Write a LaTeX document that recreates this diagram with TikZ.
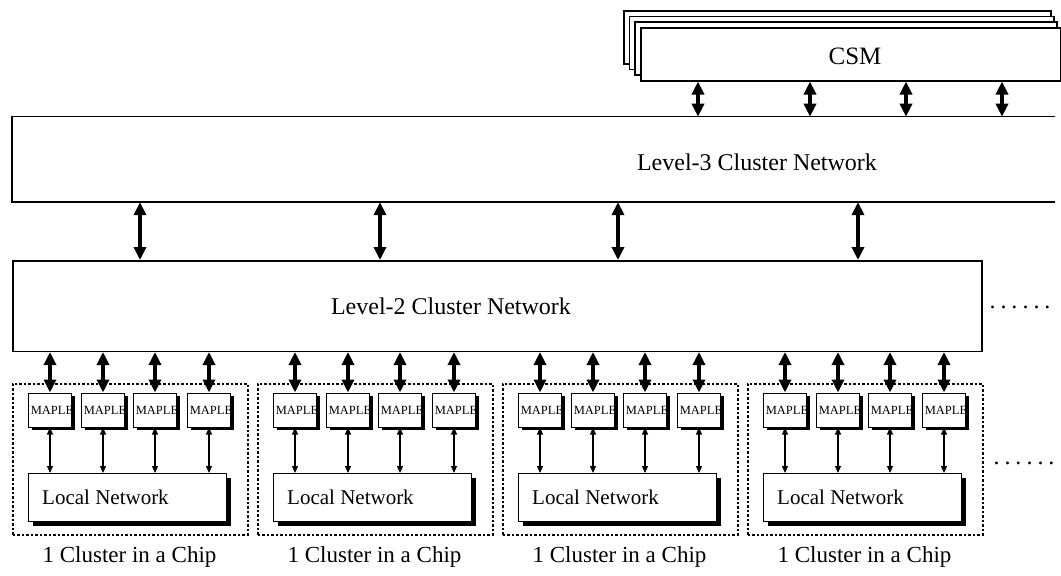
\documentclass[tikz,border=0pt]{standalone}
\usepackage{fontspec}
\setmainfont{Liberation Serif}
\usetikzlibrary{arrows.meta,shadows}
\begin{document}
\begin{tikzpicture}[x=1pt,y=-1pt,
  bigtxt/.style={font=\fontsize{24}{28}\selectfont, inner sep=0pt},
  labtxt/.style={font=\fontsize{23}{27}\selectfont, inner sep=0pt},
  dotstxt/.style={font=\fontsize{24}{28}\selectfont, inner sep=0pt},
  box/.style={draw, line width=1.5pt, fill=white, inner sep=0pt, anchor=north west},
  cluster/.style={draw, line width=1.6pt, dash pattern=on 2.5pt off 2pt, inner sep=0pt, anchor=north west, minimum width=235pt, minimum height=151pt},
  maple/.style={draw, line width=1pt, fill=white, inner sep=0pt, minimum width=43pt, minimum height=34pt,
    drop shadow={shadow xshift=3pt, shadow yshift=-3pt, fill=black, opacity=1}},
  mapletxt/.style={font=\fontsize{12.5}{14}\selectfont, inner sep=0pt},
  lnet/.style={draw, line width=1pt, fill=white, inner sep=0pt, anchor=north west, minimum width=198pt, minimum height=48pt,
    drop shadow={shadow xshift=4pt, shadow yshift=-4pt, fill=black, opacity=1}},
  bigarrow/.style={line width=4.5pt, {Triangle[width=12pt,length=13pt]}-{Triangle[width=12pt,length=13pt]}},
  smallarrow/.style={line width=1.2pt, {Triangle[width=6pt,length=7pt]}-{Triangle[width=6pt,length=7pt]}}
]
\useasboundingbox (0,0) rectangle (1061,576);

% CSM stack
\node[box, minimum width=427pt, minimum height=53pt] (csm1) at (623,10) {};
\node[box, minimum width=424.5pt, minimum height=53pt] (csm2) at (628.5,15.5) {};
\node[box, minimum width=422pt, minimum height=53pt] (csm3) at (634,21) {};
\node[box, minimum width=419.5pt, minimum height=53pt] (csm) at (640,27) {};
\node[font=\fontsize{25}{29}\selectfont, inner sep=0pt] (csmtext) at (855,56) {CSM};

% Level-3 network (open on the right)
\node[inner sep=0pt, anchor=north west, minimum width=1043pt, minimum height=85pt] (l3) at (12,116.7) {};
\draw[line width=1.5pt] (l3.north east) -- (l3.north west) -- (l3.south west) -- (l3.south east);
\node[bigtxt] (l3text) at (757,162) {Level-3 Cluster Network};

\foreach \x in {698,810,906,1002}
  \draw[bigarrow] (csm.south -| \x,0) -- (l3.north -| \x,0);

% Level-2 network
\node[box, minimum width=969pt, minimum height=90.5pt] (l2) at (12,260) {};
\node[bigtxt] (l2text) at (451,306) {Level-2 Cluster Network};
\node[dotstxt] (dots1) at (1020,307) {.\kern5pt.\kern5pt.\kern5pt.\kern5pt.\kern5pt.};

\foreach \x in {140,380,618,858}
  \draw[bigarrow] (l3.south -| \x,0) -- (l2.north -| \x,0);

% Clusters
\foreach \c/\cx in {1/12,2/257,3/502,4/747} {
  \node[cluster] (cl\c) at (\cx,383) {};
  \node[lnet] (ln\c) at (\cx+16,473) {};
  \node[font=\fontsize{21}{25}\selectfont, inner sep=0pt, anchor=west] (lt\c) at (\cx+30,497) {Local Network};
  \foreach \j/\dx in {1/38,2/91,3/143,4/197} {
    \node[maple] (m\c\j) at (\cx+\dx,410) {};
    \node[mapletxt] (mt\c\j) at (\cx+\dx+2,410) {MAPLE};
    \draw[bigarrow] (m\c\j.north |- l2.south) -- (m\c\j.north);
    \draw[smallarrow] (m\c\j.south) -- (m\c\j.south |- ln\c.north);
  }
  \node[labtxt] (lab\c) at (\cx+117.5,557) {1 Cluster in a Chip};
}
\node[dotstxt] (dots2) at (1024,463) {.\kern5pt.\kern5pt.\kern5pt.\kern5pt.\kern5pt.};
\end{tikzpicture}
\end{document}
